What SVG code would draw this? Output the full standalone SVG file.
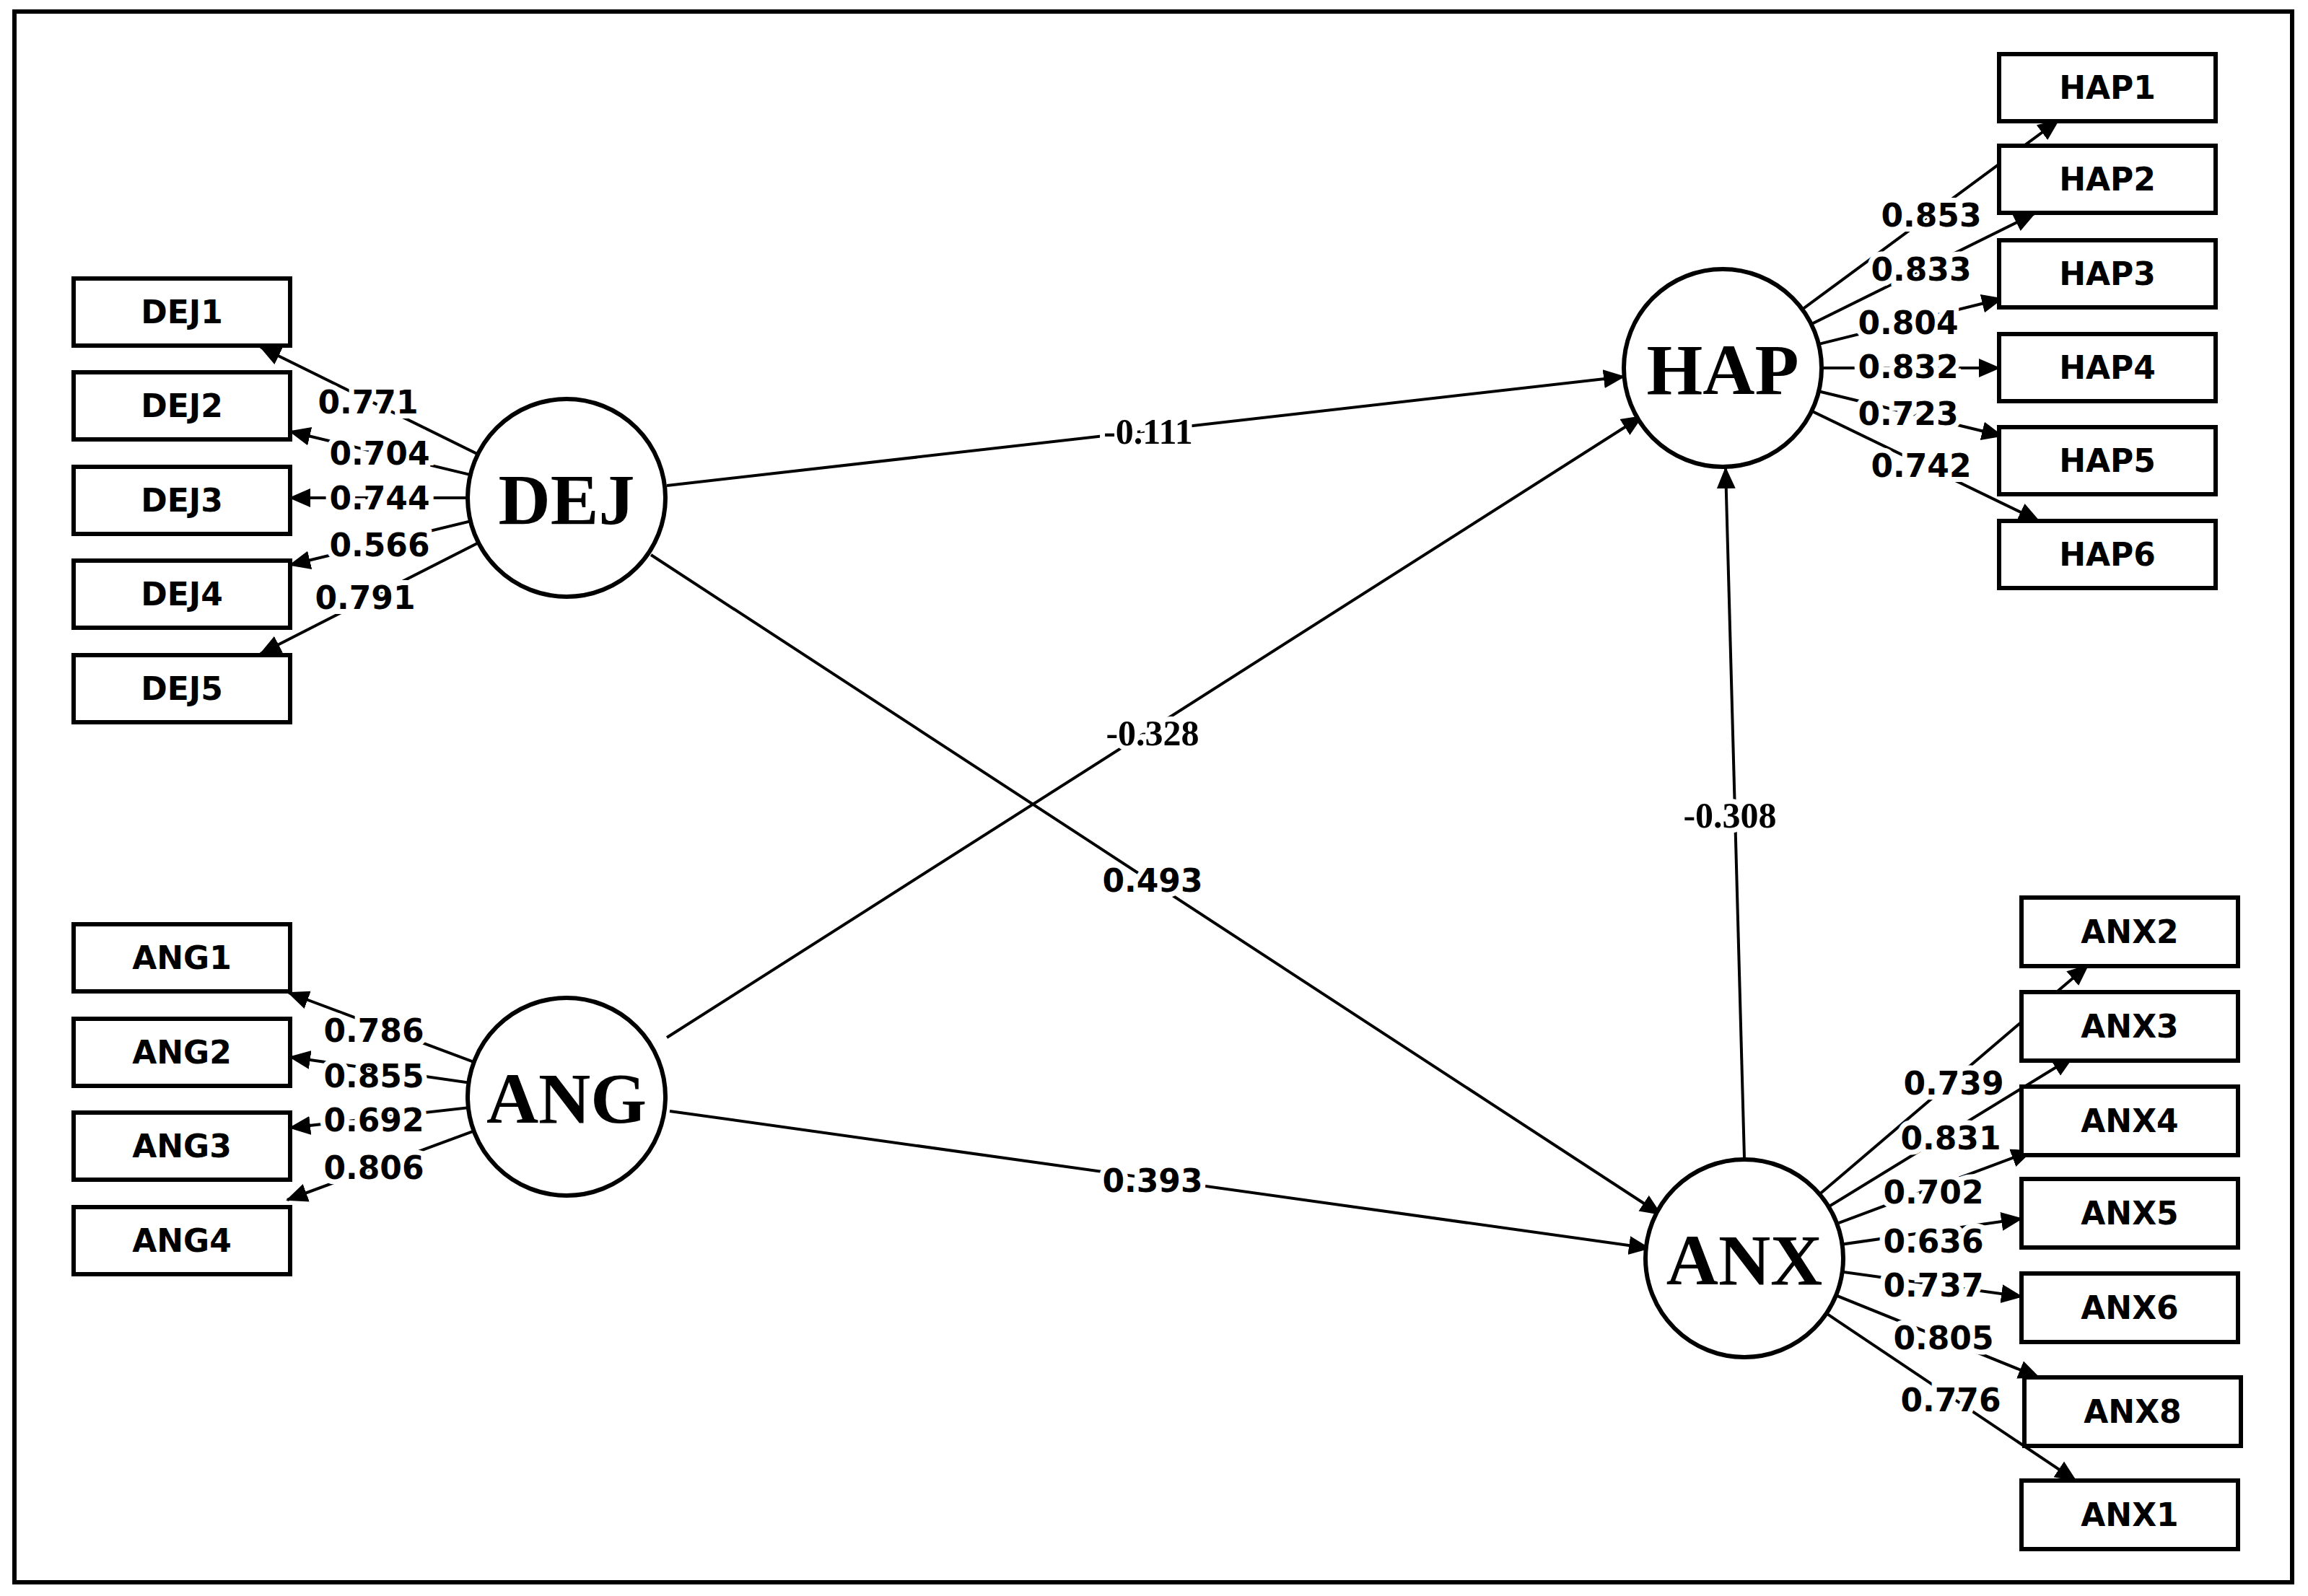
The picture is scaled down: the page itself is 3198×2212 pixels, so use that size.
<svg xmlns="http://www.w3.org/2000/svg" width="3198" height="2212" viewBox="0 0 3198 2212">
<defs>
<style>
.box{fill:#fff;stroke:#000;stroke-width:6}
.lat{fill:#fff;stroke:#000;stroke-width:6}
.bl{font-family:"DejaVu Sans",sans-serif;font-weight:bold;font-size:44px;text-anchor:middle;dominant-baseline:central}
.ll{font-family:"Liberation Serif",serif;font-weight:bold;font-size:100px;text-anchor:middle;dominant-baseline:central}
.num{font-family:"DejaVu Sans",sans-serif;font-weight:bold;font-size:44px;text-anchor:middle;dominant-baseline:central;stroke:#fff;stroke-width:14;paint-order:stroke;fill:#000}
.snum{font-family:"Liberation Serif",serif;font-weight:bold;font-size:50px;text-anchor:middle;dominant-baseline:central;stroke:#fff;stroke-width:14;paint-order:stroke;fill:#000}
.c line{stroke:#000;stroke-width:4;marker-end:url(#ah)}
</style>
<marker id="ah" markerUnits="userSpaceOnUse" markerWidth="30" markerHeight="30" viewBox="0 0 30 30" refX="28" refY="15" orient="auto"><path d="M0,2 L30,15 L0,28 Z" fill="#000"/></marker>
</defs>
<rect x="0" y="0" width="3198" height="2212" fill="#fff"/>
<rect x="20" y="16" width="3156" height="2177" fill="none" stroke="#000" stroke-width="6"/>
<g id="connectors" class="c">
<line x1="785" y1="690" x2="361" y2="481"/>
<line x1="785" y1="690" x2="402" y2="598"/>
<line x1="785" y1="690" x2="402" y2="690"/>
<line x1="785" y1="690" x2="402" y2="783"/>
<line x1="785" y1="690" x2="361" y2="906"/>
<line x1="785" y1="1520" x2="400" y2="1376"/>
<line x1="785" y1="1520" x2="402" y2="1465"/>
<line x1="785" y1="1520" x2="402" y2="1563"/>
<line x1="785" y1="1520" x2="398" y2="1663"/>
<line x1="2387" y1="510" x2="2852" y2="167"/>
<line x1="2387" y1="510" x2="2819" y2="296"/>
<line x1="2387" y1="510" x2="2774" y2="414"/>
<line x1="2387" y1="510" x2="2770" y2="510"/>
<line x1="2387" y1="510" x2="2774" y2="604"/>
<line x1="2387" y1="510" x2="2825" y2="722"/>
<line x1="2417" y1="1744" x2="2893" y2="1338"/>
<line x1="2417" y1="1744" x2="2872" y2="1465"/>
<line x1="2417" y1="1744" x2="2815" y2="1595"/>
<line x1="2417" y1="1744" x2="2801" y2="1689"/>
<line x1="2417" y1="1744" x2="2801" y2="1797"/>
<line x1="2417" y1="1744" x2="2825" y2="1909"/>
<line x1="2417" y1="1744" x2="2876" y2="2052"/>
<line x1="924" y1="673" x2="2250" y2="522"/>
<line x1="924" y1="1438" x2="2275" y2="577"/>
<line x1="902" y1="769" x2="2301" y2="1683"/>
<line x1="928" y1="1540" x2="2285" y2="1730"/>
<line x1="2417" y1="1605" x2="2391" y2="649"/>
</g>
<g id="DEJ"><circle class="lat" cx="785" cy="690" r="137"/><text class="ll" x="785" y="692">DEJ</text></g>
<g id="ANG"><circle class="lat" cx="785" cy="1520" r="137"/><text class="ll" x="785" y="1522">ANG</text></g>
<g id="HAP"><circle class="lat" cx="2387" cy="510" r="137"/><text class="ll" x="2387" y="512">HAP</text></g>
<g id="ANX"><circle class="lat" cx="2417" cy="1744" r="137"/><text class="ll" x="2417" y="1746">ANX</text></g>
<g id="DEJ1"><rect class="box" x="102" y="386" width="300" height="93"/><text class="bl" x="252" y="432">DEJ1</text></g>
<g id="DEJ2"><rect class="box" x="102" y="516" width="300" height="93"/><text class="bl" x="252" y="562">DEJ2</text></g>
<g id="DEJ3"><rect class="box" x="102" y="647" width="300" height="93"/><text class="bl" x="252" y="693">DEJ3</text></g>
<g id="DEJ4"><rect class="box" x="102" y="777" width="300" height="93"/><text class="bl" x="252" y="823">DEJ4</text></g>
<g id="DEJ5"><rect class="box" x="102" y="908" width="300" height="93"/><text class="bl" x="252" y="954">DEJ5</text></g>
<g id="ANG1"><rect class="box" x="102" y="1281" width="300" height="93"/><text class="bl" x="252" y="1327">ANG1</text></g>
<g id="ANG2"><rect class="box" x="102" y="1412" width="300" height="93"/><text class="bl" x="252" y="1458">ANG2</text></g>
<g id="ANG3"><rect class="box" x="102" y="1542" width="300" height="93"/><text class="bl" x="252" y="1588">ANG3</text></g>
<g id="ANG4"><rect class="box" x="102" y="1673" width="300" height="93"/><text class="bl" x="252" y="1719">ANG4</text></g>
<g id="HAP1"><rect class="box" x="2770" y="75" width="300" height="93"/><text class="bl" x="2920" y="121">HAP1</text></g>
<g id="HAP2"><rect class="box" x="2770" y="202" width="300" height="93"/><text class="bl" x="2920" y="248">HAP2</text></g>
<g id="HAP3"><rect class="box" x="2770" y="333" width="300" height="93"/><text class="bl" x="2920" y="379">HAP3</text></g>
<g id="HAP4"><rect class="box" x="2770" y="463" width="300" height="93"/><text class="bl" x="2920" y="509">HAP4</text></g>
<g id="HAP5"><rect class="box" x="2770" y="592" width="300" height="93"/><text class="bl" x="2920" y="638">HAP5</text></g>
<g id="HAP6"><rect class="box" x="2770" y="722" width="300" height="93"/><text class="bl" x="2920" y="768">HAP6</text></g>
<g id="ANX2"><rect class="box" x="2801" y="1244" width="300" height="95"/><text class="bl" x="2951" y="1291">ANX2</text></g>
<g id="ANX3"><rect class="box" x="2801" y="1375" width="300" height="95"/><text class="bl" x="2951" y="1422">ANX3</text></g>
<g id="ANX4"><rect class="box" x="2801" y="1506" width="300" height="95"/><text class="bl" x="2951" y="1553">ANX4</text></g>
<g id="ANX5"><rect class="box" x="2801" y="1634" width="300" height="95"/><text class="bl" x="2951" y="1681">ANX5</text></g>
<g id="ANX6"><rect class="box" x="2801" y="1765" width="300" height="95"/><text class="bl" x="2951" y="1812">ANX6</text></g>
<g id="ANX8"><rect class="box" x="2805" y="1909" width="300" height="95"/><text class="bl" x="2955" y="1956">ANX8</text></g>
<g id="ANX1"><rect class="box" x="2801" y="2052" width="300" height="95"/><text class="bl" x="2951" y="2099">ANX1</text></g>
<g id="labels">
<text class="num" x="510" y="557">0.771</text>
<text class="num" x="526" y="628">0.704</text>
<text class="num" x="526" y="690">0.744</text>
<text class="num" x="526" y="755">0.566</text>
<text class="num" x="506" y="828">0.791</text>
<text class="num" x="518" y="1428">0.786</text>
<text class="num" x="518" y="1491">0.855</text>
<text class="num" x="518" y="1552">0.692</text>
<text class="num" x="518" y="1618">0.806</text>
<text class="num" x="2676" y="298">0.853</text>
<text class="num" x="2662" y="373">0.833</text>
<text class="num" x="2644" y="447">0.804</text>
<text class="num" x="2644" y="508">0.832</text>
<text class="num" x="2644" y="573">0.723</text>
<text class="num" x="2662" y="645">0.742</text>
<text class="num" x="2707" y="1501">0.739</text>
<text class="num" x="2703" y="1577">0.831</text>
<text class="num" x="2679" y="1652">0.702</text>
<text class="num" x="2679" y="1720">0.636</text>
<text class="num" x="2679" y="1781">0.737</text>
<text class="num" x="2693" y="1854">0.805</text>
<text class="num" x="2703" y="1940">0.776</text>
<text class="snum" x="1591" y="598">-0.111</text>
<text class="snum" x="1597" y="1016">-0.328</text>
<text class="num" x="1597" y="1220">0.493</text>
<text class="num" x="1597" y="1636">0.393</text>
<text class="snum" x="2397" y="1130">-0.308</text>
</g>
</svg>
